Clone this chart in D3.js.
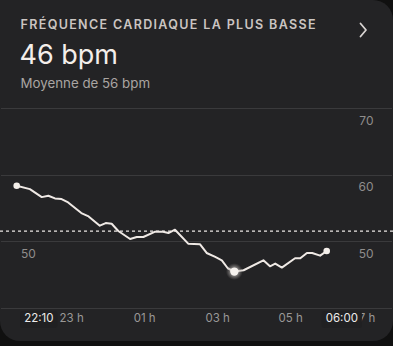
<!DOCTYPE html>
<html>
<head>
<meta charset="utf-8">
<script src="https://cdn.jsdelivr.net/npm/d3@7"></script>
<style>
  html, body { margin: 0; padding: 0; background: #101010; }
  svg { display: block; }
  text { font-family: Inter, "Noto Sans", sans-serif; }
</style>
</head>
<body>
<svg id="chart" width="393" height="346"></svg>
<script>
// ---- data ----
const title = "FRÉQUENCE CARDIAQUE LA PLUS BASSE";
const headline = "46 bpm";
const subline = "Moyenne de 56 bpm";
const times = ["22:10","22:30","22:48","22:58","23:08","23:18","23:28","23:48","23:59","00:16","00:25","00:34","00:44","01:02","01:12","01:22","01:40","01:52","02:00","02:10","02:30","02:48","02:58","03:11","03:21","03:30","03:40","03:54","04:24","04:34","04:42","04:52","05:12","05:20","05:30","05:38","05:50","06:00"];
const bpm = [58.3,57.8,56.6,56.8,56.4,56.3,55.8,54.2,53.7,52.3,52.7,52.6,51.5,50.3,50.6,50.6,51.4,51.4,51.2,51.7,49.6,49.5,48.2,47.6,47.1,45.9,45.4,45.6,47.1,46.2,46.6,46.0,47.4,47.4,48.2,48.2,47.8,48.5];
const minIndex = 26;
const referenceValue = 51.5;
const yTicks = [70, 60, 50];
const yAxisBottom = 40;
const leftLabelValue = 50;
const xTickTimes = ["23:00","01:00","03:00","05:00","07:00"];
const xTickLabels = ["23 h","01 h","03 h","05 h","07 h"];
const startLabel = "22:10";
const endLabel = "06:00";

// ---- helpers ----
function toDate(s) {
  const [h, m] = s.split(":").map(Number);
  const day = h >= 12 ? 0 : 1;
  return new Date(2024, 0, 1 + day, h, m);
}
const points = times.map((t, i) => ({ t: toDate(t), v: bpm[i] }));

const W = 393, H = 346;
const svg = d3.select("#chart");

// card
svg.append("rect").attr("x", 0).attr("y", 0).attr("width", W).attr("height", 341)
  .attr("rx", 20).attr("fill", "#232325");
svg.append("rect").attr("x", 0).attr("y", 0).attr("width", 30).attr("height", 30)
  .attr("fill", "#232325");

// header
svg.append("text").attr("x", 20.5).attr("y", 29).text(title)
  .attr("font-size", 12.5).attr("font-weight", 600).attr("fill", "#cbc5c2")
  .attr("textLength", 295).attr("lengthAdjust", "spacing");
svg.append("text").attr("x", 19.5).attr("y", 63.5).text(headline)
  .attr("font-size", 27).attr("font-weight", 400).attr("fill", "#f3eeea");
svg.append("text").attr("x", 20.5).attr("y", 87.5).text(subline)
  .attr("font-size", 13.3).attr("fill", "#aaa5a2");
// chevron
svg.append("path").attr("d", "M360.5,23.5 L366,30 L360.5,36.5")
  .attr("fill", "none").attr("stroke", "#d8d4d2").attr("stroke-width", 1.8)
  .attr("stroke-linecap", "round").attr("stroke-linejoin", "round");

// scales
const y = d3.scaleLinear().domain([yAxisBottom, 70]).range([307.5, 108]);
const x = d3.scaleTime().domain([toDate(times[0]), toDate(times[times.length - 1])]).range([16.7, 326.7]);
const xLabel = d3.scaleTime().domain([toDate("23:00"), toDate("07:00")]).range([71.7, 363.5]);

// gridlines
svg.append("g").selectAll("line").data(yTicks.concat([yAxisBottom])).join("line")
  .attr("x1", 1).attr("x2", W - 1)
  .attr("y1", d => Math.round(y(d)) + 0.5).attr("y2", d => Math.round(y(d)) + 0.5)
  .attr("stroke", "#3a3a3c").attr("stroke-width", 1);

// y labels
svg.append("g").selectAll("text").data(yTicks).join("text")
  .attr("x", 373.5).attr("y", d => y(d) + 16.5).attr("text-anchor", "end")
  .attr("font-size", 12).attr("fill", "#8f8d8c").text(d => d);
svg.append("text").attr("x", 21).attr("y", y(leftLabelValue) + 16.5)
  .attr("font-size", 12).attr("fill", "#8f8d8c").text(leftLabelValue);

// reference dotted line
svg.append("line").attr("x1", 0).attr("x2", W)
  .attr("y1", y(referenceValue)).attr("y2", y(referenceValue))
  .attr("stroke", "#ece8e5").attr("stroke-width", 1.3).attr("stroke-dasharray", "3,3");

// line
const line = d3.line().x(d => x(d.t)).y(d => y(d.v));
svg.append("path").datum(points).attr("d", line)
  .attr("fill", "none").attr("stroke", "#efe9e5").attr("stroke-width", 2)
  .attr("stroke-linejoin", "round").attr("stroke-linecap", "round");

// end markers
const first = points[0], last = points[points.length - 1], minP = points[minIndex];
[first, last].forEach(p => {
  svg.append("circle").attr("cx", x(p.t)).attr("cy", y(p.v)).attr("r", 3.3).attr("fill", "#f3eeea");
});
// min marker with glow
const defs = svg.append("defs");
const grad = defs.append("radialGradient").attr("id", "glow");
grad.append("stop").attr("offset", "0%").attr("stop-color", "#ffffff").attr("stop-opacity", 0.6);
grad.append("stop").attr("offset", "60%").attr("stop-color", "#bdb8b5").attr("stop-opacity", 0.45);
grad.append("stop").attr("offset", "100%").attr("stop-color", "#8a8684").attr("stop-opacity", 0);
svg.append("circle").attr("cx", x(minP.t)).attr("cy", y(minP.v)).attr("r", 8.5).attr("fill", "url(#glow)");
svg.append("circle").attr("cx", x(minP.t)).attr("cy", y(minP.v)).attr("r", 4.2).attr("fill", "#f6f2ef");

// x axis labels
const axY = 322;
svg.append("g").selectAll("text").data(xTickTimes).join("text")
  .attr("x", d => xLabel(toDate(d))).attr("y", axY).attr("text-anchor", "middle")
  .attr("font-size", 11.5).attr("fill", "#9a9897")
  .text((d, i) => xTickLabels[i]);

function boxedLabel(xc, anchor, txt) {
  const g = svg.append("g");
  const t = g.append("text").attr("x", xc).attr("y", axY).attr("text-anchor", anchor)
    .attr("font-size", 11.5).attr("font-weight", 400).attr("fill", "#ecebea").text(txt);
  const bb = t.node().getBBox();
  g.insert("rect", "text").attr("x", bb.x - 4).attr("y", 311).attr("width", bb.width + 8).attr("height", 17)
    .attr("rx", 3).attr("fill", "#202022");
}
boxedLabel(xLabel(toDate(startLabel)) - 2.5, "middle", startLabel);
boxedLabel(x(toDate(endLabel)) - 1, "start", endLabel);
</script>
</body>
</html>
